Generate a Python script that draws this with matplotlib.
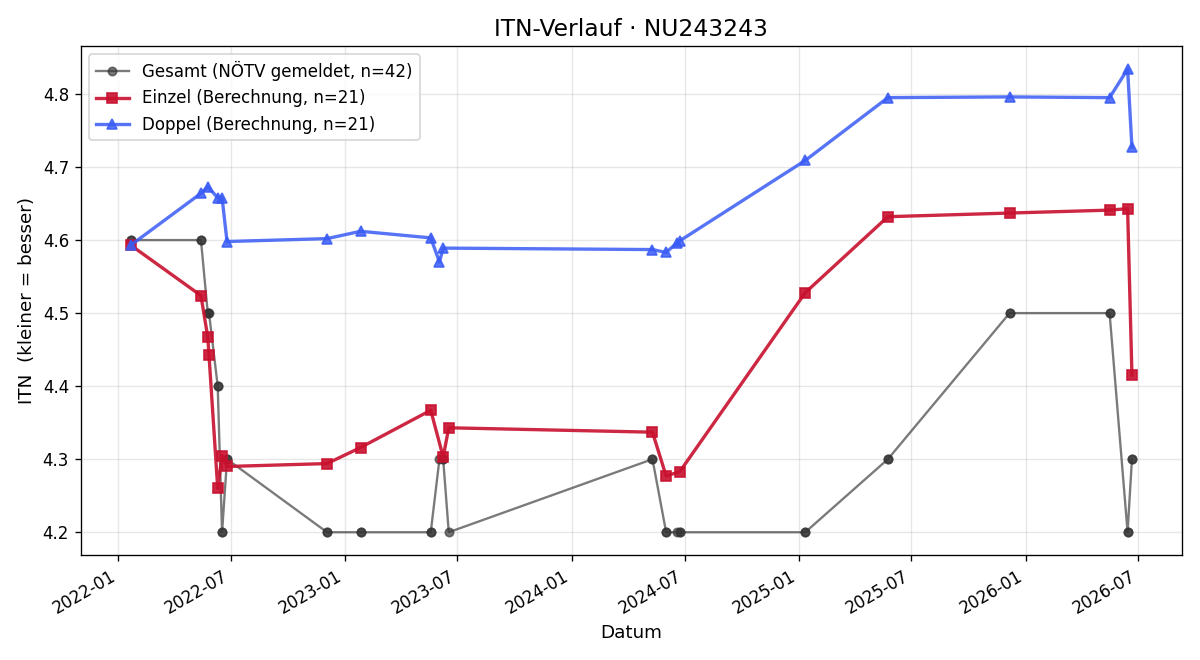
import pandas as pd
import matplotlib
matplotlib.use("Agg")
import matplotlib.pyplot as plt
import matplotlib.dates as mdates

# Einzel (singles) rating calculation
einzel_dates = ["2022-01-21", "2022-05-14", "2022-05-25", "2022-05-27", "2022-06-10",
                "2022-06-17", "2022-06-25", "2022-12-03", "2023-01-26", "2023-05-19",
                "2023-06-08", "2023-06-17", "2024-05-10", "2024-06-01", "2024-06-23",
                "2025-01-11", "2025-05-24", "2025-12-06", "2026-05-16", "2026-06-14",
                "2026-06-21"]
einzel_itn = [4.593, 4.524, 4.467, 4.442, 4.260, 4.305, 4.290, 4.294, 4.316, 4.367,
              4.303, 4.343, 4.337, 4.277, 4.283, 4.528, 4.632, 4.637, 4.641, 4.643,
              4.415]

# Doppel (doubles) rating calculation
doppel_dates = ["2022-01-21", "2022-05-14", "2022-05-25", "2022-06-10", "2022-06-17",
                "2022-06-25", "2022-12-03", "2023-01-26", "2023-05-19", "2023-06-02",
                "2023-06-08", "2024-05-10", "2024-06-01", "2024-06-18", "2024-06-23",
                "2025-01-11", "2025-05-24", "2025-12-06", "2026-05-16", "2026-06-14",
                "2026-06-21"]
doppel_itn = [4.593, 4.664, 4.673, 4.658, 4.658, 4.598, 4.602, 4.612, 4.603, 4.570,
              4.589, 4.587, 4.583, 4.596, 4.599, 4.709, 4.795, 4.796, 4.795, 4.834,
              4.727]

# Gesamt (reported by NÖTV), one entry per match
gesamt_dates = ["2022-01-21", "2022-01-21", "2022-05-14", "2022-05-14", "2022-05-25",
                "2022-05-25", "2022-05-27", "2022-06-10", "2022-06-10", "2022-06-17",
                "2022-06-17", "2022-06-25", "2022-06-25", "2022-12-03", "2022-12-03",
                "2023-01-26", "2023-01-26", "2023-05-19", "2023-05-19", "2023-06-02",
                "2023-06-08", "2023-06-08", "2023-06-17", "2024-05-10", "2024-05-10",
                "2024-06-01", "2024-06-01", "2024-06-18", "2024-06-23", "2024-06-23",
                "2025-01-11", "2025-01-11", "2025-05-24", "2025-05-24", "2025-12-06",
                "2025-12-06", "2026-05-16", "2026-05-16", "2026-06-14", "2026-06-14",
                "2026-06-21", "2026-06-21"]
gesamt_itn = [4.6, 4.6, 4.6, 4.6, 4.5, 4.5, 4.5, 4.4, 4.4, 4.2,
              4.2, 4.3, 4.3, 4.2, 4.2, 4.2, 4.2, 4.2, 4.2, 4.3,
              4.3, 4.3, 4.2, 4.3, 4.3, 4.2, 4.2, 4.2, 4.2, 4.2,
              4.2, 4.2, 4.3, 4.3, 4.5, 4.5, 4.5, 4.5, 4.2, 4.2,
              4.3, 4.3]

fig, ax = plt.subplots(figsize=(10, 5.5), dpi=120)

ax.plot(pd.to_datetime(gesamt_dates), gesamt_itn, color="#333333", alpha=0.65,
        marker="o", markersize=5, linewidth=1.4,
        label="Gesamt (NÖTV gemeldet, n={})".format(len(gesamt_itn)))
ax.plot(pd.to_datetime(einzel_dates), einzel_itn, color="#c8102e", alpha=0.9,
        marker="s", markersize=6, linewidth=2,
        label="Einzel (Berechnung, n={})".format(len(einzel_itn)))
ax.plot(pd.to_datetime(doppel_dates), doppel_itn, color="#3a5cf5", alpha=0.85,
        marker="^", markersize=6, linewidth=2,
        label="Doppel (Berechnung, n={})".format(len(doppel_itn)))

ax.set_title("ITN-Verlauf · NU243243", fontsize=14)
ax.set_xlabel("Datum", fontsize=11)
ax.set_ylabel("ITN  (kleiner = besser)", fontsize=11)
ax.grid(True, alpha=0.3)
ax.legend(loc="upper left", fontsize=10)
ax.xaxis.set_major_formatter(mdates.DateFormatter("%Y-%m"))
fig.autofmt_xdate()

fig.tight_layout()
fig.savefig("out.png")
